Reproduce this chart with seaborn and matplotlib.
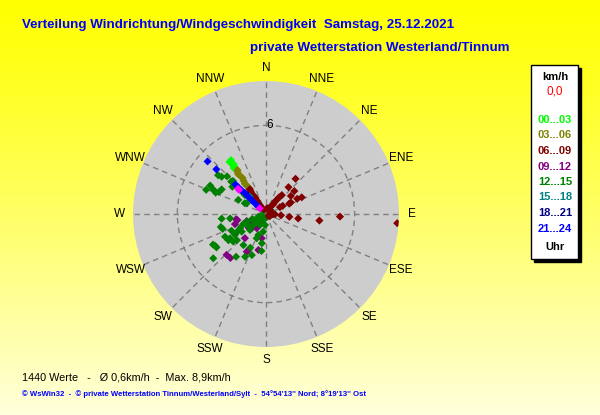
import matplotlib
matplotlib.use('Agg')
import matplotlib.pyplot as plt
from matplotlib.patches import Rectangle
import numpy as np
import pandas as pd
import seaborn as sns

# Windrichtung (Grad) und Geschwindigkeit (km/h) je Zeitraum
dir_00_03 = [326, 326, 325, 326, 327, 326, 326, 325, 327]
v_00_03 = [3.6, 3.7, 3.8, 3.9, 4.0, 4.1, 4.2, 4.3, 4.35]

dir_03_06 = [326, 327, 326, 325, 326, 327, 326, 325, 326, 327]
v_03_06 = [1.9, 2.1, 2.3, 2.5, 2.7, 2.9, 3.1, 3.3, 3.45, 3.55]

dir_06_09 = [326, 327, 326, 325, 326, 327, 326, 325, 326, 327,
             31, 34, 37, 36, 37, 38, 40, 40, 40,
             51, 54, 64, 65, 65, 66, 64, 64,
             92, 95, 97, 98, 97, 92, 94,
             60, 120, 10, 150, 80]
v_06_09 = [0.3, 0.5, 0.7, 0.9, 1.1, 1.3, 1.5, 1.7, 1.85, 2.0,
           0.53, 0.68, 0.82, 1.03, 1.19, 1.44, 1.67, 2.37, 3.11,
           2.47, 2.08, 2.35, 2.67, 1.85, 1.72, 1.26, 1.05,
           0.61, 1.02, 1.59, 2.2, 3.64, 5.01, 8.9,
           0.3, 0.3, 0.4, 0.2, 0.4]

dir_09_12 = [258, 252, 250, 230, 213, 221, 190, 192, 224, 219, 206, 207, 209, 244, 260, 225, 232]
v_09_12 = [1.98, 2.21, 1.39, 0.97, 1.15, 2.17, 1.67, 2.49, 3.84, 3.83, 2.71, 2.87, 0.46, 1.2, 2.05, 1.3, 1.5]

dir_12_15 = [309, 310, 314, 297, 292, 295, 293, 295, 299, 313, 309, 297, 312, 299, 297, 315, 313, 313,
             264, 263, 254, 251, 244, 236, 241, 246, 248, 245, 251, 257, 225, 236, 241, 230, 228,
             240, 236, 238, 230, 215, 216, 205, 199, 206, 187, 188, 200, 201, 189, 185, 209, 229,
             237, 234, 238, 235, 240, 220, 200, 230, 250]
v_12_15 = [4.17, 3.92, 3.67, 4.24, 4.37, 3.95, 3.7, 3.52, 3.43, 3.22, 2.93, 2.1, 1.92, 1.49, 1.61, 3.16, 2.71, 2.23,
           3.02, 2.45, 3.18, 3.1, 2.59, 2.53, 2.01, 1.69, 1.41, 0.95, 0.55, 0.3, 1.53, 2.94, 3.17, 2.9, 2.65,
           4.14, 4.04, 4.06, 4.66, 3.53, 2.6, 2.52, 2.94, 3.22, 2.52, 2.0, 1.51, 1.76, 1.21, 0.75, 0.85, 1.14,
           1.44, 2.03, 2.34, 3.1, 0.6, 0.5, 0.4, 0.8, 1.0]

dir_15_18 = [317]
v_15_18 = [1.6]

dir_21_24 = [312, 312, 314, 314, 314, 315, 314, 314, 314, 313]
v_21_24 = [5.32, 4.52, 2.87, 2.6, 2.28, 2.0, 1.67, 1.35, 1.04, 0.72]

dir_akt = [312, 312, 312]
v_akt = [2.45, 2.55, 0.57]

zeiten = ['00...03', '03...06', '06...09', '09...12', '12...15', '15...18', '18...21', '21...24']
farben = ['#00ff00', '#808000', '#800000', '#800080', '#008000', '#008080', '#000080', '#0000ff']
richtungen = ['N', 'NNE', 'NE', 'ENE', 'E', 'ESE', 'SE', 'SSE',
              'S', 'SSW', 'SW', 'WSW', 'W', 'WNW', 'NW', 'NNW']

gruppen = [('00...03', dir_00_03, v_00_03), ('03...06', dir_03_06, v_03_06),
           ('06...09', dir_06_09, v_06_09), ('09...12', dir_09_12, v_09_12),
           ('12...15', dir_12_15, v_12_15), ('15...18', dir_15_18, v_15_18),
           ('21...24', dir_21_24, v_21_24), ('aktuell', dir_akt, v_akt)]

rows = []
for name, d, v in gruppen:
    for a, b in zip(d, v):
        rows.append({'zeit': name, 'richtung': a, 'speed': b})
df = pd.DataFrame(rows)
df['theta'] = np.deg2rad(df['richtung'])

palette = dict(zip(zeiten, farben))
palette['aktuell'] = '#ff00ff'

fig = plt.figure(figsize=(6, 4.15), dpi=100)

# Hintergrund Verlauf gelb -> hell
bg = fig.add_axes([0, 0, 1, 1])
bg.axis('off')
t = np.linspace(0, 1, 256)[:, None]
blau = np.clip(0.86 * t ** 1.15, 0, 1) * np.ones((1, 2))
grad = np.dstack([np.ones((256, 2)), np.ones((256, 2)), blau])
bg.imshow(grad, aspect='auto', extent=[0, 1, 0, 1])
bg.set_xlim(0, 1)
bg.set_ylim(0, 1)

cx, cy, rad = 266, 214, 133
ax = fig.add_axes([(cx - rad) / 600, (415 - cy - rad) / 415, 2 * rad / 600, 2 * rad / 415],
                  projection='polar')
ax.set_facecolor('#cdcdcd')
ax.set_theta_zero_location('N')
ax.set_theta_direction(-1)
ax.set_axisbelow(True)

sns.scatterplot(data=df, x='theta', y='speed', hue='zeit', palette=palette,
                marker='D', s=17, linewidth=0, legend=False, ax=ax)

ax.set_ylim(0, 9)
ax.set_yticks([6])
ax.set_yticklabels([])
ax.set_xticks(np.deg2rad(np.arange(0, 360, 22.5)))
ax.set_xticklabels([])
ax.set_xlabel('')
ax.set_ylabel('')
ax.grid(True, color='#808080', linestyle=(0, (4, 3)), linewidth=1)
ax.spines['polar'].set_visible(False)

for i, name in enumerate(richtungen):
    ax.text(np.deg2rad(i * 22.5), 9.9, name, ha='center', va='center',
            fontsize=8.5, family='Liberation Sans', clip_on=False)
ax.text(np.deg2rad(2.5), 6.0, '6', ha='center', va='center', fontsize=8.5,
        family='Liberation Sans', zorder=0.9)
ax.annotate('0', (0, 0), xytext=(6, -1), textcoords='offset pixels', ha='center',
            va='center', fontsize=8.5, family='Liberation Sans', zorder=0.9)


def px(x, y):
    return x / 600, 1 - y / 415


fig.text(*px(22, 25), 'Verteilung Windrichtung/Windgeschwindigkeit  Samstag, 25.12.2021',
         color='#0000ff', fontsize=9.6, fontweight='bold', family='Liberation Sans', va='center')
fig.text(*px(250, 48), 'private Wetterstation Westerland/Tinnum',
         color='#0000ff', fontsize=9.6, fontweight='bold', family='Liberation Sans', va='center')

# Legende mit Schatten
lx0, ly0, lx1, ly1 = 531, 65, 578, 259
fig.patches.append(Rectangle(px(lx0 + 3, ly1 + 3), (lx1 - lx0) / 600, (ly1 - ly0) / 415,
                             transform=fig.transFigure, facecolor='black', edgecolor='black'))
fig.patches.append(Rectangle(px(lx0, ly1), (lx1 - lx0) / 600, (ly1 - ly0) / 415,
                             transform=fig.transFigure, facecolor='white', edgecolor='black', linewidth=1))
fig.text(*px(555, 77), 'km/h', ha='center', va='center', fontsize=8, fontweight='bold',
         family='Liberation Sans')
fig.text(*px(555, 92), '0,0', ha='center', va='center', fontsize=8.5, color='#ff0000',
         family='Liberation Sans')
leg_y = [120, 135.5, 151, 166.5, 182, 197.5, 213, 228.5]
for z, f, y in zip(zeiten, farben, leg_y):
    fig.text(*px(555, y), z, ha='center', va='center', fontsize=8, fontweight='bold',
             color=f, family='Liberation Sans')
fig.text(*px(555, 247), 'Uhr', ha='center', va='center', fontsize=8, fontweight='bold',
         family='Liberation Sans')

fig.text(*px(22, 377), '1440 Werte   -   \u00d8 0,6km/h  -  Max. 8,9km/h', va='center',
         fontsize=7.8, family='Liberation Sans')
fig.text(*px(22, 394), '\u00a9 WsWin32  -  \u00a9 private Wetterstation Tinnum/Westerland/Sylt  -  '
         '54\u00b054\'13\'\' Nord; 8\u00b019\'13\'\' Ost', va='center', fontsize=5.6,
         fontweight='bold', color='#0000ff', family='Liberation Sans')

fig.savefig('out.png', dpi=100)
